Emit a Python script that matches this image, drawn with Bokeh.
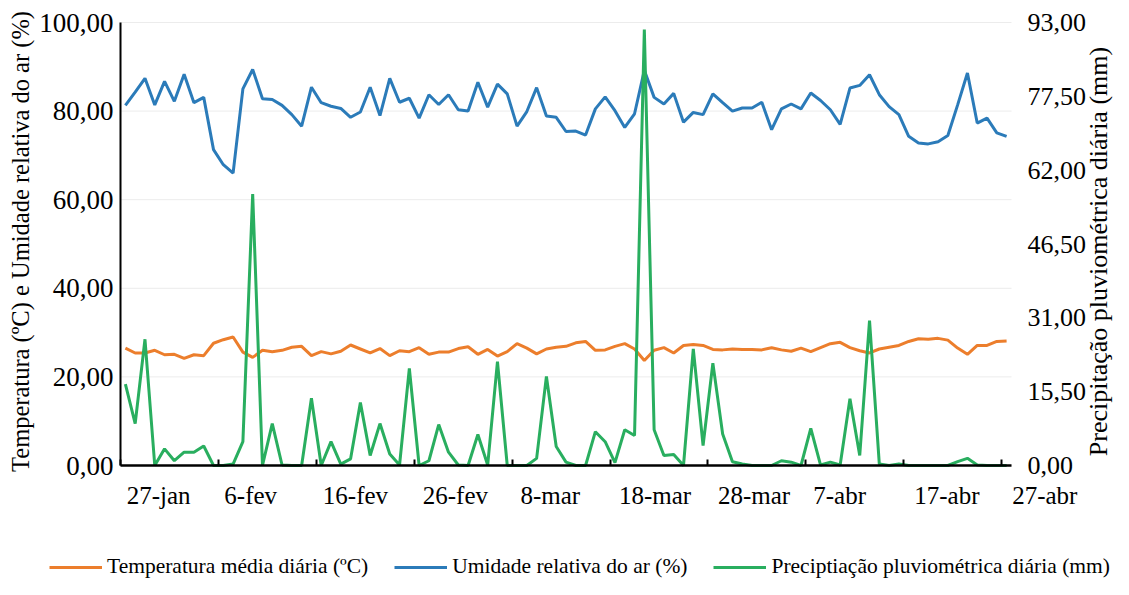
import math
from bokeh.plotting import figure
from bokeh.models import (Range1d, LinearAxis, FixedTicker, Legend, LegendItem,
                          CustomJSTickFormatter)
from bokeh.core.properties import value
from bokeh.embed import file_html
from bokeh.resources import INLINE

# ---- data (day index 0 = 27-jan) ----
days = list(range(91))

temperatura = [26.5, 25.4, 25.4, 26.0, 25.0, 25.1, 24.2, 25.0, 24.8, 27.6,
               28.4, 29.0, 25.6, 24.4, 26.0, 25.7, 26.0, 26.7, 26.9, 24.8,
               25.7, 25.2, 25.8, 27.2, 26.3, 25.4, 26.4, 24.8, 25.9, 25.7,
               26.6, 25.1, 25.6, 25.6, 26.4, 26.8, 25.1, 26.2, 24.7, 25.7,
               27.5, 26.5, 25.2, 26.3, 26.7, 26.9, 27.7, 28.0, 26.0, 26.1,
               26.9, 27.5, 26.3, 23.7, 26.0, 26.6, 25.4, 27.1, 27.3, 27.1,
               26.2, 26.1, 26.3, 26.2, 26.2, 26.1, 26.6, 26.1, 25.8, 26.5,
               25.7, 26.6, 27.5, 27.8, 26.6, 25.9, 25.4, 26.3, 26.7, 27.1,
               28.0, 28.6, 28.5, 28.7, 28.3, 26.5, 25.1, 27.1, 27.1, 28.0,
               28.1]

umidade = [81.3, 84.3, 87.4, 81.4, 86.7, 82.2, 88.3, 81.9, 83.1, 71.3,
           67.9, 66.0, 85.0, 89.4, 82.8, 82.6, 81.3, 79.2, 76.6, 85.4,
           81.9, 81.1, 80.6, 78.6, 79.8, 85.4, 79.0, 87.4, 82.0, 82.9,
           78.4, 83.7, 81.5, 83.7, 80.3, 80.0, 86.5, 80.9, 86.1, 83.9,
           76.6, 79.9, 85.3, 78.9, 78.6, 75.4, 75.5, 74.6, 80.5, 83.2,
           80.1, 76.3, 79.4, 89.2, 83.1, 81.6, 84.0, 77.5, 79.7, 79.2,
           83.9, 81.9, 80.0, 80.7, 80.7, 82.0, 75.8, 80.5, 81.6, 80.5,
           84.1, 82.4, 80.3, 77.0, 85.2, 85.8, 88.2, 83.7, 81.0, 79.2,
           74.3, 72.8, 72.6, 73.1, 74.5, 81.4, 88.6, 77.3, 78.4, 75.1,
           74.3]

precipitacao = [17.1, 8.8, 26.5, 0.0, 3.5, 1.0, 2.8, 2.8, 4.1, 0.0,
                0.0, 0.3, 5.0, 57.0, 0.0, 8.8, 0.1, 0.0, 0.0, 14.1,
                0.0, 5.0, 0.3, 1.4, 13.2, 2.1, 8.8, 2.4, 0.1, 20.4,
                0.0, 1.0, 8.6, 2.8, 0.1, 0.0, 6.5, 0.1, 21.8, 0.0,
                0.0, 0.0, 1.5, 18.7, 4.0, 0.7, 0.0, 0.0, 7.1, 5.0,
                0.6, 7.5, 6.3, 91.5, 7.5, 2.1, 2.3, 0.0, 24.5, 4.2,
                21.5, 6.6, 0.8, 0.3, 0.0, 0.0, 0.0, 1.0, 0.7, 0.0,
                7.8, 0.1, 0.7, 0.1, 14.0, 2.1, 30.4, 0.3, 0.0, 0.3,
                0.0, 0.0, 0.0, 0.0, 0.0, 0.8, 1.5, 0.1, 0.0, 0.0,
                0.0]

x_labels = ["27-jan", "6-fev", "16-fev", "26-fev", "8-mar",
            "18-mar", "28-mar", "7-abr", "17-abr", "27-abr"]
x_label_pos = [3.4, 12.8, 23.5, 33.7, 43.4, 54.1, 64.2, 72.95, 83.9, 93.9]
x_tick_marks = [-0.5 + 10 * k for k in range(10)]

left_ticks = [0, 20, 40, 60, 80, 100]
right_ticks = [0, 15.5, 31, 46.5, 62, 77.5, 93]
LEFT_MAX, RIGHT_MAX = 100, 93

series_names = ["Temperatura média diária (ºC)",
                "Umidade relativa do ar (%)",
                "Preciptiação pluviométrica diária (mm)"]
left_title = "Temperatura (ºC) e Umidade relativa do ar (%)"
right_title = "Precipitação pluviométrica diária (mm)"

C_ORANGE = "#EC7E2C"
C_BLUE = "#2B7BB9"
C_GREEN = "#29AE5F"
C_GRID = "#ececec"
FONT = "Liberation Serif"

# ---- layout (px, figure coordinates) ----
W, H = 1113, 579
PL, PR, PT, PB = 120, 1011, 22, 465          # plotting area edges
X0, X1 = days[0] - 0.5, days[-1] + 0.5
sx = (PR - PL) / (X1 - X0)
sy = (PB - PT) / LEFT_MAX
ratio = RIGHT_MAX / LEFT_MAX

y_lo = -(H - PB) / sy
y_hi = LEFT_MAX + PT / sy

p = figure(width=W, height=H, output_backend="svg", toolbar_location=None,
           x_axis_type=None, y_axis_type=None,
           x_range=Range1d(X0 - PL / sx, X1 + (W - PR) / sx),
           y_range=Range1d(y_lo, y_hi),
           min_border_left=0, min_border_right=0, min_border_top=0,
           min_border_bottom=0)
p.extra_y_ranges = {"prec": Range1d(y_lo * ratio, y_hi * ratio)}
p.outline_line_color = None
p.grid.visible = False

comma_fmt = CustomJSTickFormatter(code="return tick.toFixed(2).replace('.', ',');")

# horizontal grid lines, only across the plotting area
p.segment(x0=[X0] * len(left_ticks), x1=[X1] * len(left_ticks),
          y0=left_ticks, y1=left_ticks, line_color=C_GRID, line_width=1)

# left axis
ya = LinearAxis(fixed_location=X0, bounds=(0, LEFT_MAX),
                ticker=FixedTicker(ticks=left_ticks), formatter=comma_fmt)
ya.major_label_text_font = FONT
ya.major_label_text_font_size = "27px"
ya.major_label_text_color = "black"
ya.major_label_standoff = 7
ya.major_tick_in = 0
ya.major_tick_out = 0
ya.minor_tick_line_color = None
ya.axis_line_color = "black"
ya.axis_line_width = 2
p.add_layout(ya, "left")

# right axis
ra = LinearAxis(fixed_location=X1, y_range_name="prec", bounds=(0, RIGHT_MAX),
                ticker=FixedTicker(ticks=right_ticks), formatter=comma_fmt)
ra.major_label_text_font = FONT
ra.major_label_text_font_size = "26px"
ra.major_label_text_color = "black"
ra.major_label_standoff = 16
ra.major_tick_in = 0
ra.major_tick_out = 0
ra.minor_tick_line_color = None
ra.axis_line_color = None
p.add_layout(ra, "right")

# bottom axis: line + small tick marks
xa = LinearAxis(fixed_location=0, bounds=(X0, X1),
                ticker=FixedTicker(ticks=[], minor_ticks=x_tick_marks))
xa.minor_tick_in = 6
xa.minor_tick_out = 0
xa.minor_tick_line_color = "black"
xa.minor_tick_line_width = 2
xa.major_tick_line_color = None
xa.axis_line_color = "black"
xa.axis_line_width = 2.5
p.add_layout(xa, "below")

# bottom axis: date labels
date_fmt = CustomJSTickFormatter(
    args=dict(pos=x_label_pos, lab=x_labels),
    code="const i = pos.findIndex(v => Math.abs(v - tick) < 1e-6); return i >= 0 ? lab[i] : '';")
xl = LinearAxis(fixed_location=0, ticker=FixedTicker(ticks=x_label_pos),
                formatter=date_fmt)
xl.axis_line_color = None
xl.major_tick_line_color = None
xl.minor_tick_line_color = None
xl.major_tick_in = 0
xl.major_tick_out = 0
xl.major_label_standoff = 16
xl.major_label_text_font = FONT
xl.major_label_text_font_size = "25px"
xl.major_label_text_color = "black"
p.add_layout(xl, "below")

# axis titles
p.text(x=[X0 + (20 - PL) / sx], y=[(PB - 241) / sy], text=[left_title],
       angle=math.pi / 2, text_align="center", text_baseline="middle",
       text_font=value(FONT), text_font_size="24.5px", text_color="black")
p.text(x=[X1 + (1098 - PR) / sx], y=[(PB - 251) / sy], text=[right_title],
       angle=math.pi / 2, text_align="center", text_baseline="middle",
       text_font=value(FONT), text_font_size="26px", text_color="black")

# series
r1 = p.line(days, temperatura, line_color=C_ORANGE, line_width=3)
r2 = p.line(days, umidade, line_color=C_BLUE, line_width=3)
r3 = p.line(days, precipitacao, line_color=C_GREEN, line_width=3, y_range_name="prec")

legend = Legend(items=[LegendItem(label=series_names[0], renderers=[r1]),
                       LegendItem(label=series_names[1], renderers=[r2]),
                       LegendItem(label=series_names[2], renderers=[r3])],
                orientation="horizontal", location=(49, 0),
                glyph_width=53, glyph_height=22, label_height=22,
                label_standoff=5, spacing=26, padding=0, margin=0,
                border_line_color=None, background_fill_alpha=0,
                label_text_font=FONT, label_text_font_size="21.5px",
                label_text_color="black")
p.add_layout(legend)

open("out.html", "w").write(file_html(p, INLINE))
